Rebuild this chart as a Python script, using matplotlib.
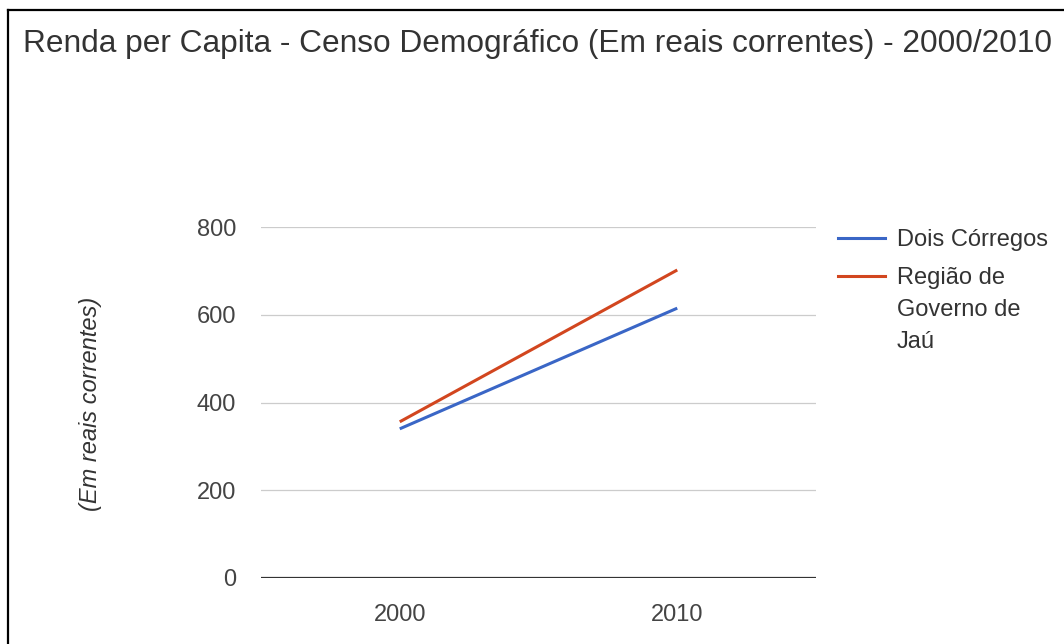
import matplotlib
matplotlib.use('Agg')
import matplotlib.pyplot as plt
from matplotlib.lines import Line2D

# data
years = ['2000', '2010']
dois_corregos = [340, 615]
regiao_jau = [356, 702]
yticks = [0, 200, 400, 600, 800]

title = 'Renda per Capita - Censo Demográfico (Em reais correntes) - 2000/2010'
ylabel = '(Em reais correntes)'
names = ['Dois Córregos', 'Região de\nGoverno de\nJaú']
colours = ['#3a66c6', '#d2461f']

plt.rcParams['font.family'] = ['Liberation Sans', 'DejaVu Sans']

W, H = 1064, 644
fig = plt.figure(figsize=(W / 100, H / 100), dpi=100)
fig.patch.set_facecolor('white')

# chart area in pixels: left 261, right 816, top 227, bottom 578
ax = fig.add_axes([261 / W, 1 - 578 / H, (816 - 261) / W, (578 - 227) / H])
x = list(range(len(years)))
ax.plot(x, dois_corregos, color=colours[0], lw=2.2, solid_capstyle='butt')
ax.plot(x, regiao_jau, color=colours[1], lw=2.2, solid_capstyle='butt')

ax.set_xlim(-0.5, len(years) - 0.5)
ax.set_ylim(0, 800)
ax.set_xticks(x)
ax.set_xticklabels(years)
ax.set_yticks(yticks)
for s in ax.spines.values():
    s.set_visible(False)
ax.tick_params(length=0, labelsize=17, colors='#444444')
ax.tick_params(axis='y', pad=18)
ax.tick_params(axis='x', pad=19)
for t in yticks[1:]:
    ax.axhline(t, color='#cccccc', lw=0.9, zorder=0)
ax.axhline(0, color='#333333', lw=1.6, zorder=3)

fig.text(90 / W, 1 - 404 / H, ylabel, rotation=90, style='italic', fontsize=17,
         color='#333333', ha='center', va='center')

fig.text(23 / W, 1 - 52 / H, title, fontsize=22.8, color='#333333',
         ha='left', va='baseline')

# legend
leg_y = [238, 276]
for i, nm in enumerate(names):
    yy = 1 - leg_y[i] / H
    fig.add_artist(Line2D([838 / W, 885 / W], [yy, yy], color=colours[i], lw=2.2,
                          transform=fig.transFigure))
    fig.text(897 / W, 1 - (leg_y[i] - 9) / H, nm, fontsize=17, color='#333333',
             ha='left', va='top', linespacing=1.6, transform=fig.transFigure)

# screenshot border (left and top)
fig.add_artist(Line2D([8 / W, 8 / W], [0, 1 - 10 / H], color='black', lw=1.6,
                      transform=fig.transFigure))
fig.add_artist(Line2D([8 / W, 1], [1 - 10 / H, 1 - 10 / H], color='black', lw=1.6,
                      transform=fig.transFigure))

fig.savefig('out.png', dpi=100, facecolor='white')
